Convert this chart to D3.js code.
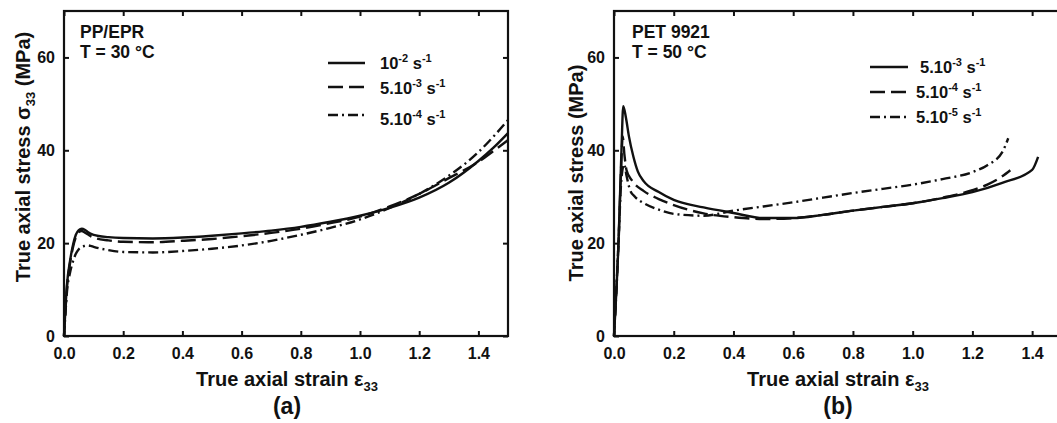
<!DOCTYPE html>
<html><head><meta charset="utf-8">
<script src="https://cdn.jsdelivr.net/npm/d3@7"></script>
<style>
body{margin:0;background:#fff;}
text{font-family:"Liberation Sans",Arial,sans-serif;font-weight:bold;fill:#111;}
</style></head>
<body><svg id="c" width="1057" height="423"></svg>
<script>
// ---- data (strain, stress MPa) ----
const xTicks = [0.0,0.2,0.4,0.6,0.8,1.0,1.2,1.4];
const yTicks = [0,20,40,60];

// Panel (a) PP/EPR, T = 30 °C
const a_strain1 = [0,0.005,0.01,0.02,0.03,0.04,0.05,0.06,0.07,0.08,0.1,0.15,0.2,0.3,0.4,0.5,0.6,0.7,0.8,0.9,1.0,1.1,1.2,1.3,1.4,1.45,1.5];
const a_stress1 = [0,6,11,16,19.5,21.8,22.8,23.1,22.9,22.4,21.8,21.3,21.1,21.0,21.2,21.6,22.1,22.7,23.5,24.6,25.9,27.6,29.8,33.0,37.7,40.5,43.7];
const a_strain2 = [0,0.005,0.01,0.02,0.03,0.04,0.05,0.06,0.07,0.08,0.1,0.15,0.2,0.3,0.4,0.5,0.6,0.7,0.8,0.9,1.0,1.1,1.2,1.3,1.4,1.45,1.5];
const a_stress2 = [0,5.5,10.5,15.5,19,21.3,22.4,22.6,22.3,21.9,21.2,20.6,20.3,20.2,20.5,20.9,21.5,22.2,23.1,24.3,25.7,27.9,30.6,34.0,37.5,39.8,42.2];
const a_strain3 = [0,0.005,0.01,0.02,0.03,0.04,0.05,0.06,0.07,0.08,0.09,0.1,0.15,0.2,0.3,0.4,0.5,0.6,0.7,0.8,0.9,1.0,1.1,1.2,1.3,1.4,1.45,1.5];
const a_stress3 = [0,5,9.5,13.5,16,17.7,18.7,19.2,19.4,19.5,19.4,19.2,18.5,18.1,18.0,18.3,18.8,19.5,20.5,21.8,23.3,25.1,27.6,30.6,34.5,39.6,42.9,46.5];

// Panel (b) PET 9921, T = 50 °C
const b_strain1 = [0,0.005,0.015,0.025,0.031,0.04,0.05,0.065,0.08,0.1,0.15,0.2,0.3,0.4,0.5,0.6,0.7,0.8,0.9,1.0,1.1,1.2,1.3,1.4,1.42];
const b_stress1 = [0,6,20,40,49.5,47,43,38.6,35.4,33.3,31.0,29.3,27.7,26.5,25.4,25.4,26.1,27.0,27.8,28.6,29.7,31.0,33.0,35.8,38.6];
const b_strain2 = [0,0.005,0.015,0.025,0.029,0.035,0.042,0.06,0.1,0.15,0.2,0.3,0.4,0.5,0.6,0.7,0.8,0.9,1.0,1.1,1.2,1.25,1.3,1.327];
const b_stress2 = [0,6,20,38,43,39,35.7,33.5,31.2,29.5,28.2,26.4,25.6,25.2,25.4,26.1,27.0,27.8,28.6,29.8,31.4,32.6,34.4,35.7];
const b_strain3 = [0,0.005,0.015,0.025,0.034,0.042,0.054,0.07,0.1,0.15,0.2,0.3,0.4,0.5,0.6,0.7,0.8,0.9,1.0,1.1,1.2,1.25,1.3,1.32];
const b_stress3 = [0,6,20,34,37,34.5,31.4,30.0,28.6,27.2,26.3,25.9,27.0,27.9,28.8,29.8,30.8,31.7,32.6,33.8,35.3,36.8,39.6,42.6];

const aLegend = [["10","-2"],["5.10","-3"],["5.10","-4"]];
const bLegend = [["5.10","-3"],["5.10","-4"],["5.10","-5"]];
const dashes = [null,"15,6","10,4,2,4"];

const svg = d3.select("#c");

function panel(o){
  const g = svg.append("g");
  const x = d3.scaleLinear().domain([0,1.5]).range([o.x0,o.x1]);
  const y = d3.scaleLinear().domain([0,70]).range([336,11]);
  g.append("g").attr("transform","translate(0,336)")
    .call(d3.axisBottom(x).tickValues(xTicks).tickFormat(d3.format(".1f")).tickSizeInner(-5).tickSizeOuter(0).tickPadding(12));
  g.append("g").attr("transform","translate(0,11)")
    .call(d3.axisTop(x).tickValues(xTicks).tickFormat("").tickSizeInner(-5).tickSizeOuter(0));
  g.append("g").attr("transform",`translate(${o.x0},0)`)
    .call(d3.axisLeft(y).tickValues(yTicks).tickSizeInner(-5).tickSizeOuter(0).tickPadding(9));
  g.append("g").attr("transform",`translate(${o.x1},0)`)
    .call(d3.axisRight(y).tickValues(yTicks).tickFormat("").tickSizeInner(-5).tickSizeOuter(0));
  g.selectAll(".domain").remove();
  g.selectAll(".tick line").attr("stroke","#111").attr("stroke-width",2);
  g.selectAll(".tick text").style("font-size","16px").style("font-family","Liberation Sans, Arial, sans-serif").style("font-weight","bold").attr("fill","#111");
  g.append("rect").attr("x",o.x0).attr("y",11).attr("width",o.x1-o.x0).attr("height",325)
    .attr("fill","none").attr("stroke","#111").attr("stroke-width",2.2);

  const line = d3.line().x(d=>x(d[0])).y(d=>y(d[1])).curve(d3.curveMonotoneX);
  o.series.forEach((s,i)=>{
    const pts = s[0].map((v,k)=>[v,s[1][k]]);
    g.append("path").datum(pts).attr("d",line).attr("fill","none").attr("stroke","#111")
      .attr("stroke-width",2.4).attr("stroke-dasharray",dashes[i]).attr("stroke-linejoin","round");
  });

  // annotation
  g.append("text").attr("x",o.annX).attr("y",38).style("font-size","17.5px").text(o.name);
  g.append("text").attr("x",o.annX).attr("y",58).style("font-size","17.5px").text(o.temp);

  // legend
  o.legend.forEach((l,i)=>{
    const ly = o.legY[i];
    g.append("line").attr("x1",o.legX1).attr("x2",o.legX2).attr("y1",ly).attr("y2",ly)
      .attr("stroke","#111").attr("stroke-width",2.4).attr("stroke-dasharray",dashes[i]);
    const t = g.append("text").attr("x",o.legTX[i]).attr("y",ly+o.legDy[i]).style("font-size","16.5px");
    t.append("tspan").text(l[0]);
    t.append("tspan").attr("dy",-7).style("font-size","11px").text(l[1]);
    t.append("tspan").attr("dy",7).text(" s");
    t.append("tspan").attr("dy",-7).style("font-size","11px").text("-1");
  });

  // axis titles
  const xt = g.append("text").attr("x",o.xTitleX).attr("y",386).attr("text-anchor","middle").style("font-size","20px");
  xt.append("tspan").text("True axial strain ε");
  xt.append("tspan").attr("dy",5).style("font-size","13px").text("33");
  g.append("text").attr("x",o.xTitleX).attr("y",414).attr("text-anchor","middle").style("font-size","23px").text(o.tag);

  const yt = g.append("text").attr("transform",`translate(${o.yTitleX},${o.yTitleY}) rotate(-90)`).attr("text-anchor","middle").style("font-size","20px");
  o.yTitle.forEach(p=>{
    const ts = yt.append("tspan").text(p[0]);
    if(p[1]) ts.attr("dy",p[1]);
    if(p[2]) ts.style("font-size",p[2]);
  });
}

panel({x0:64,x1:508,name:"PP/EPR",temp:"T = 30 °C",annX:80,
  series:[[a_strain1,a_stress1],[a_strain2,a_stress2],[a_strain3,a_stress3]],
  legend:aLegend,legX1:328,legX2:365,legY:[63,87,115],legTX:[380,380,380],legDy:[6,7,10],
  xTitleX:287,tag:"(a)",yTitleX:30,yTitleY:157,
  yTitle:[["True axial stress σ"],["33",5,"13px"],[" (MPa)",-5]]});

panel({x0:614,x1:1062,name:"PET 9921",temp:"T = 50 °C",annX:632,
  series:[[b_strain1,b_stress1],[b_strain2,b_stress2],[b_strain3,b_stress3]],
  legend:bLegend,legX1:870,legX2:908,legY:[67,92,117],legTX:[920,916,916],legDy:[6,6,6],
  xTitleX:838,tag:"(b)",yTitleX:583,yTitleY:173,
  yTitle:[["True axial stress (MPa)"]]});
</script>
</body></html>
